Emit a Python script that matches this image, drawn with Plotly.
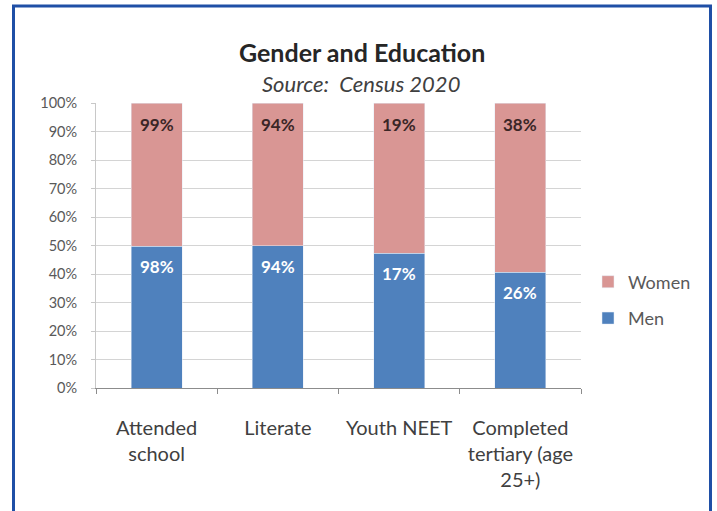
import plotly.graph_objects as go

categories = ["Attended<br>school", "Literate", "Youth NEET", "Completed<br>tertiary (age<br>25+)"]
men = [98, 94, 17, 26]
women = [99, 94, 19, 38]
men_labels = ["98%", "94%", "17%", "26%"]
women_labels = ["99%", "94%", "19%", "38%"]

FONT = "Lato"
BLUE = "#4F81BD"
PINK = "#D99694"

# plot area in pixels
L, R, T, B = 96, 581, 103, 388
W, H = 717, 511

def px_x(p):
    return (p - L) / (R - L)

def px_y(p):
    return (B - p) / (B - T)

fig = go.Figure()
fig.add_trace(go.Bar(x=categories, y=men, name="Men", marker_color=BLUE,
                     legendgroup="m", legendrank=2, hoverinfo="skip"))
fig.add_trace(go.Bar(x=categories, y=women, name="Women", marker_color=PINK,
                     legendgroup="w", legendrank=1, hoverinfo="skip"))

annotations = []
for c, m, w, ml, wl in zip(categories, men, women, men_labels, women_labels):
    share = m / (m + w) * 100
    annotations.append(dict(x=c, y=share, xref="x", yref="y", text="<b>" + ml + "</b>",
                            showarrow=False, yanchor="top", yshift=-8,
                            font=dict(family=FONT, size=17, color="white")))
    annotations.append(dict(x=c, y=100, xref="x", yref="y", text="<b>" + wl + "</b>",
                            showarrow=False, yanchor="top", yshift=-9,
                            font=dict(family=FONT, size=17, color="#3b2626")))

annotations.append(dict(x=px_x(362), y=px_y(35), xref="paper", yref="paper",
                        text="<b>Gender and Education</b>", showarrow=False,
                        font=dict(family=FONT, size=25, color="#262626")))
annotations.append(dict(x=px_x(361), y=px_y(68), xref="paper", yref="paper",
                        text="<i>Source:  Census 2020</i>", showarrow=False,
                        font=dict(family=FONT, size=22, color="#404040")))

border = "#1F4FA6"
shapes = [
    dict(type="line", xref="paper", yref="paper", x0=px_x(12), x1=px_x(712),
         y0=px_y(6), y1=px_y(6), line=dict(color=border, width=3)),
    dict(type="line", xref="paper", yref="paper", x0=px_x(13.5), x1=px_x(13.5),
         y0=px_y(5), y1=px_y(530), line=dict(color=border, width=3)),
    dict(type="line", xref="paper", yref="paper", x0=px_x(710.5), x1=px_x(710.5),
         y0=px_y(5), y1=px_y(530), line=dict(color=border, width=3)),
]

fig.update_layout(
    width=W, height=H,
    margin=dict(l=L, r=W - R, t=T, b=H - B, autoexpand=False),
    paper_bgcolor="white", plot_bgcolor="white",
    barmode="stack", barnorm="percent", bargap=0.58,
    font=dict(family=FONT, color="#404040"),
    showlegend=True,
    legend=dict(x=px_x(588), y=px_y(300), xanchor="left", yanchor="middle",
                traceorder="grouped", tracegroupgap=10,
                font=dict(family=FONT, size=18, color="#595959"),
                itemwidth=30, bgcolor="rgba(0,0,0,0)"),
    annotations=annotations,
    shapes=shapes,
)
fig.update_xaxes(
    automargin=False,
    showgrid=False, showline=True, linecolor="#8c8c8c", linewidth=1,
    ticks="outside", tickson="boundaries", ticklen=5, tickcolor="#8c8c8c",
    tickfont=dict(family=FONT, size=20, color="#404040"),
    ticklabelstandoff=22,
)
fig.update_yaxes(
    automargin=False,
    range=[0, 100], dtick=10, ticksuffix="%",
    showgrid=True, gridcolor="#d4d4d4", gridwidth=1,
    showline=True, linecolor="#c8c8c8", linewidth=1,
    ticks="outside", ticklen=4, tickcolor="#c8c8c8",
    tickfont=dict(family=FONT, size=14.5, color="#595959"),
    ticklabelstandoff=11,
)

fig.write_html(
    "out.html",
    config={"displayModeBar": False},
    post_script="document.body.style.margin='0';document.body.style.overflow='hidden';",
)
